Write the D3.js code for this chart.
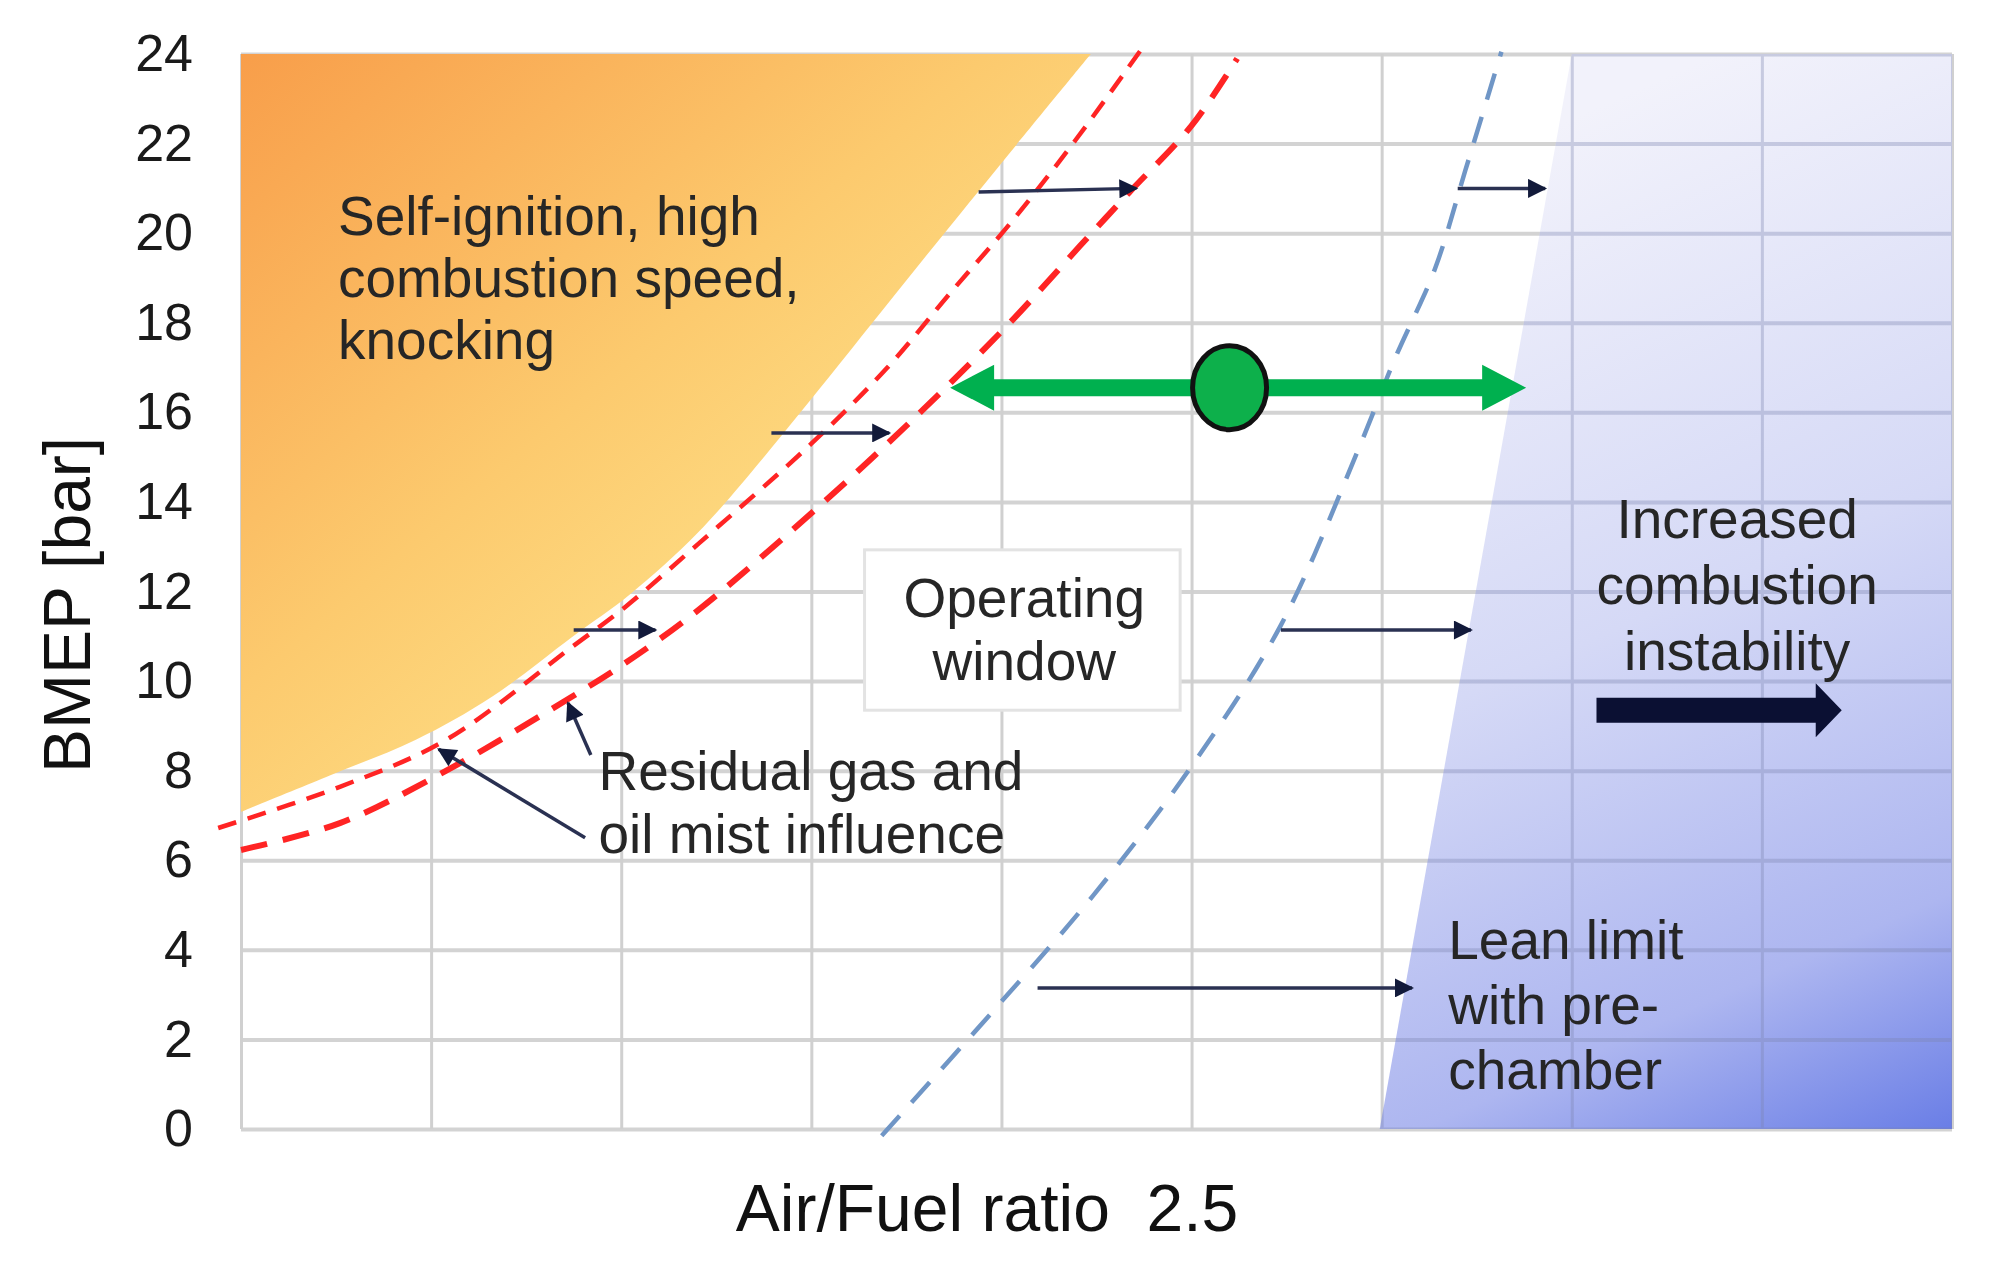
<!DOCTYPE html>
<html>
<head>
<meta charset="utf-8">
<title>BMEP vs Air/Fuel ratio</title>
<style>
  body { margin: 0; background: #fff; }
  svg { display: block; font-family: "Liberation Sans", Arial, sans-serif; }
</style>
</head>
<body>
<svg id="chart"></svg>
<script src="https://d3js.org/d3.v7.min.js"></script>
<script>
// values: x in grid columns (no numeric scale shown), y in bar
var yTicks = [0, 2, 4, 6, 8, 10, 12, 14, 16, 18, 20, 22, 24];
var xGrid = [0, 1, 2, 3, 4, 5, 6, 7, 8, 9];

// lower edge of the self-ignition / knocking zone
var knockEdge = [[0, 7.08], [0.47, 7.9], [0.92, 8.69], [1.32, 9.65], [1.74, 10.98],
                 [2.05, 11.95], [2.4, 13.3], [2.75, 15.0], [3.7, 20.0], [4.47, 24]];
// the two residual gas / oil mist limits (red dashed)
var residualUpper = [[-0.12, 6.72], [0.52, 7.64], [1.08, 8.69], [1.74, 10.76], [2.02, 11.65],
                     [2.41, 13.08], [3.0, 15.3], [3.4, 17.0], [3.73, 18.66], [4.06, 20.29],
                     [4.39, 22.08], [4.73, 24.07]];
var residualLower = [[0, 6.23], [0.52, 6.83], [1.08, 8.0], [1.74, 9.65], [2.02, 10.4],
                     [2.41, 11.6], [3.04, 13.9], [3.4, 15.3], [3.73, 16.65], [4.06, 18.07],
                     [4.41, 19.7], [4.67, 20.9], [5.0, 22.4], [5.24, 23.9]];
// lean limit (blue dashed)
var leanLimit = [[3.37, -0.15], [3.97, 2.7], [4.48, 5.2], [5.0, 8.1], [5.47, 11.25],
                 [5.88, 15.2], [6.07, 17.2], [6.28, 19.2], [6.44, 21.4], [6.63, 24.05]];
// left edge of the combustion instability zone
var instabilityEdge = [[5.99, 0], [7.0, 24]];

// operating point and its window
var opPoint = [5.2, 16.55];
var opRange = [3.73, 6.76];

// small shift arrows: x1, y1, x2, y2
var shiftArrows = [[3.88, 20.92, 4.71, 21.0], [2.79, 15.54, 3.41, 15.54], [1.75, 11.14, 2.18, 11.14],
                   [6.4, 21.0, 6.86, 21.0], [5.47, 11.14, 6.47, 11.14], [4.19, 3.15, 6.16, 3.15]];
var pointerArrows = [[1.81, 6.5, 1.04, 8.48], [1.84, 8.35, 1.72, 9.51]];
var instabilityArrow = [7.13, 8.42, 9.35];

var knockLabel = ["Self-ignition, high", "combustion speed,", "knocking"];
var windowLabel = ["Operating", "window"];
var residualLabel = ["Residual gas and", "oil mist influence"];
var instabilityLabel = ["Increased", "combustion", "instability"];
var leanLabel = ["Lean limit", "with pre-", "chamber"];
var xTitle = "Air/Fuel ratio  2.5";
var yTitle = "BMEP [bar]";

var W = 2007, H = 1269;
var x = d3.scaleLinear().domain([0, 9]).range([241, 1952]);
var y = d3.scaleLinear().domain([0, 24]).range([1129, 54]);

var svg = d3.select("#chart").attr("width", W).attr("height", H);
var defs = svg.append("defs");

var gKnock = defs.append("linearGradient").attr("id", "knockFill")
    .attr("gradientUnits", "userSpaceOnUse")
    .attr("x1", x(0)).attr("y1", y(24)).attr("x2", x(3)).attr("y2", y(9));
gKnock.append("stop").attr("offset", 0).attr("stop-color", "#F89E4A");
gKnock.append("stop").attr("offset", 0.55).attr("stop-color", "#FCCA6E");
gKnock.append("stop").attr("offset", 1).attr("stop-color", "#FEE58D");

var gLean = defs.append("linearGradient").attr("id", "leanFill")
    .attr("gradientUnits", "userSpaceOnUse")
    .attr("x1", x(6.7)).attr("y1", y(22)).attr("x2", x(9)).attr("y2", y(0));
gLean.append("stop").attr("offset", 0).attr("stop-color", "#F2F2FB");
gLean.append("stop").attr("offset", 0.45).attr("stop-color", "#D5D9F6");
gLean.append("stop").attr("offset", 0.8).attr("stop-color", "#ADB6F0");
gLean.append("stop").attr("offset", 1).attr("stop-color", "#6A7EE6");

defs.append("marker").attr("id", "tip")
    .attr("viewBox", "0 0 10 10").attr("refX", 9).attr("refY", 5)
    .attr("markerWidth", 22).attr("markerHeight", 19)
    .attr("markerUnits", "userSpaceOnUse").attr("orient", "auto")
  .append("path").attr("d", "M0,0 L10,5 L0,10 Z").attr("fill", "#121A3A");

// grid + y labels through the axes
function drawGrid(g, withLabels) {
  var ya = d3.axisLeft(y).tickValues(yTicks).tickSize(-(x(9) - x(0))).tickPadding(48);
  if (!withLabels) ya.tickFormat("");
  var gy = g.append("g").attr("transform", "translate(" + x(0) + ",0)").call(ya);
  gy.select(".domain").remove();
  gy.selectAll(".tick line").attr("stroke", "#D3D3D3").attr("stroke-width", 4);
  gy.selectAll(".tick text").attr("font-size", 52).attr("fill", "#1a1a1a")
    .attr("font-family", "Liberation Sans, Arial, sans-serif");

  var xa = d3.axisBottom(x).tickValues(xGrid).tickSize(-(y(0) - y(24))).tickFormat("");
  var gx = g.append("g").attr("transform", "translate(0," + y(0) + ")").call(xa);
  gx.select(".domain").remove();
  gx.selectAll(".tick line").attr("stroke", "#D0D0D0").attr("stroke-width", 3);
}
drawGrid(svg.append("g"), true);

// knocking zone
var knockArea = d3.area().curve(d3.curveCatmullRom)
    .y(function(d) { return y(d[1]); })
    .x0(x(0))
    .x1(function(d) { return x(d[0]); });
svg.append("path").datum(knockEdge).attr("d", knockArea).attr("fill", "url(#knockFill)");

// instability zone
var leanArea = d3.area()
    .y(function(d) { return y(d[1]); })
    .x0(function(d) { return x(d[0]); })
    .x1(x(9));
svg.append("path").datum(instabilityEdge).attr("d", leanArea).attr("fill", "url(#leanFill)");

// grid shows through the blue zone
defs.append("clipPath").attr("id", "leanClip")
  .append("path").datum(instabilityEdge).attr("d", leanArea);
var overGrid = svg.append("g").attr("clip-path", "url(#leanClip)").attr("opacity", 0.35);
drawGrid(overGrid, false);
overGrid.selectAll(".tick line").attr("stroke", "#7C84B0");

// dashed limits
var curve = d3.line().curve(d3.curveCatmullRom)
    .x(function(d) { return x(d[0]); })
    .y(function(d) { return y(d[1]); });
svg.append("path").datum(residualUpper).attr("d", curve)
    .attr("fill", "none").attr("stroke", "#FF2424").attr("stroke-width", 4.5)
    .attr("stroke-dasharray", "19 12");
svg.append("path").datum(residualLower).attr("d", curve)
    .attr("fill", "none").attr("stroke", "#FF2424").attr("stroke-width", 6)
    .attr("stroke-dasharray", "27 16");
svg.append("path").datum(leanLimit).attr("d", curve)
    .attr("fill", "none").attr("stroke", "#7096C6").attr("stroke-width", 4.5)
    .attr("stroke-dasharray", "27 18");

// thin arrows
svg.append("g").selectAll("line").data(shiftArrows.concat(pointerArrows)).join("line")
    .attr("x1", function(d) { return x(d[0]); })
    .attr("y1", function(d) { return y(d[1]); })
    .attr("x2", function(d) { return x(d[2]); })
    .attr("y2", function(d) { return y(d[3]); })
    .attr("stroke", "#2A3152").attr("stroke-width", 3.5)
    .attr("marker-end", "url(#tip)");

// green operating window arrow
function blockArrow(xa, xb, yc, shaft, headLen, headHalf, both) {
  var p = d3.path();
  if (both) {
    p.moveTo(xa, yc);
    p.lineTo(xa + headLen, yc - headHalf);
    p.lineTo(xa + headLen, yc - shaft);
  } else {
    p.moveTo(xa, yc - shaft);
  }
  p.lineTo(xb - headLen, yc - shaft);
  p.lineTo(xb - headLen, yc - headHalf);
  p.lineTo(xb, yc);
  p.lineTo(xb - headLen, yc + headHalf);
  p.lineTo(xb - headLen, yc + shaft);
  if (both) {
    p.lineTo(xa + headLen, yc + shaft);
    p.lineTo(xa + headLen, yc + headHalf);
  } else {
    p.lineTo(xa, yc + shaft);
  }
  p.closePath();
  return p.toString();
}
svg.append("path")
    .attr("d", blockArrow(x(opRange[0]), x(opRange[1]), y(opPoint[1]), 8.5, 44, 23, true))
    .attr("fill", "#00B04F");
svg.append("ellipse")
    .attr("cx", x(opPoint[0])).attr("cy", y(opPoint[1]))
    .attr("rx", 37).attr("ry", 42)
    .attr("fill", "#0DB04B").attr("stroke", "#111").attr("stroke-width", 5);

// operating window box
svg.append("rect")
    .attr("x", x(3.28)).attr("y", y(12.93))
    .attr("width", x(4.94) - x(3.28)).attr("height", y(9.35) - y(12.93))
    .attr("fill", "#fff").attr("stroke", "#E3E3E3").attr("stroke-width", 3);

// big instability arrow
svg.append("path")
    .attr("d", blockArrow(x(instabilityArrow[0]), x(instabilityArrow[1]), y(instabilityArrow[2]), 12.5, 26, 27, false))
    .attr("fill", "#0B1033");

// labels
function label(lines, px, py, anchor, lh) {
  var t = svg.append("text").attr("font-size", 55).attr("fill", "#262626")
      .attr("text-anchor", anchor);
  t.selectAll("tspan").data(lines).join("tspan")
      .attr("x", px).attr("y", function(d, i) { return py + i * lh; })
      .text(function(d) { return d; });
}
label(knockLabel, x(0.51), y(19.95), "start", 62);
label(windowLabel, x(4.12), y(11.43), "middle", 63);
label(residualLabel, x(1.88), y(7.57), "start", 63);
label(instabilityLabel, x(7.87), y(13.2), "middle", 66);
label(leanLabel, x(6.35), y(3.79), "start", 65);

// axis titles
svg.append("text").attr("x", 987).attr("y", 1231)
    .attr("text-anchor", "middle").attr("font-size", 66).attr("fill", "#111")
    .style("white-space", "pre")
    .text(xTitle);
svg.append("text").attr("transform", "translate(90," + y(11.7) + ") rotate(-90)")
    .attr("text-anchor", "middle").attr("font-size", 66).attr("fill", "#111")
    .text(yTitle);
</script>
</body>
</html>
